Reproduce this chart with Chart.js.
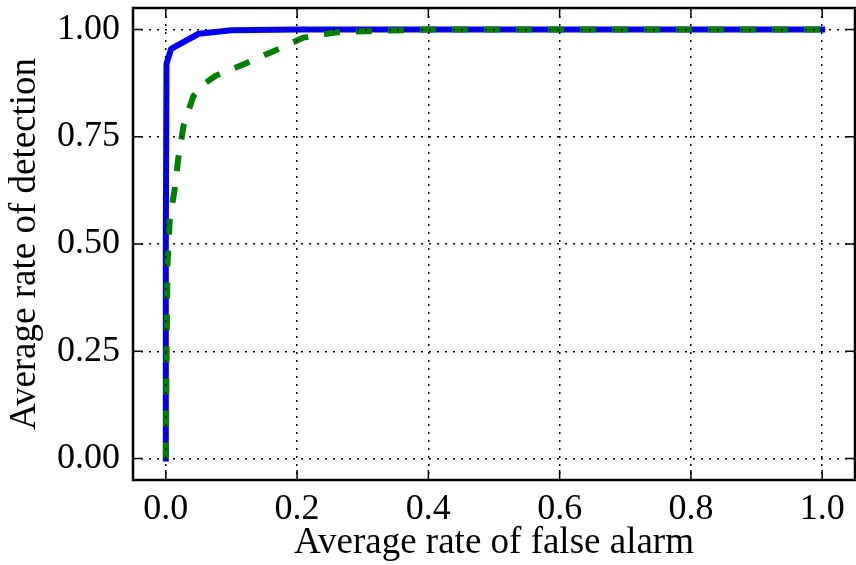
<!DOCTYPE html>
<html>
<head>
<meta charset="utf-8">
<script src="https://cdn.jsdelivr.net/npm/chart.js@4/dist/chart.umd.min.js"></script>
<style>
    html, body { margin: 0; padding: 0; background: #fff; }
    canvas { display: block; }
</style>
</head>
<body>
<canvas id="roc" width="856" height="565"></canvas>
<script>
// values
const blueX  = [0.0, 0.0, 0.001, 0.008, 0.05, 0.1, 0.2, 0.4, 0.6, 0.8, 1.0];
const blueY  = [0.0, 0.5, 0.92, 0.955, 0.99, 0.998, 1.0, 1.0, 1.0, 1.0, 1.0];
const greenX = [0.0, 0.001, 0.0025, 0.006, 0.0135, 0.019, 0.027, 0.042, 0.06, 0.076, 0.119, 0.165, 0.21, 0.258, 0.306, 0.4, 0.6, 0.8, 1.0];
const greenY = [0.0, 0.2, 0.45, 0.557, 0.627, 0.70, 0.775, 0.845, 0.875, 0.892, 0.919, 0.95, 0.981, 0.993, 0.996, 1.0, 1.0, 1.0, 1.0];
const xTicks = [0.0, 0.2, 0.4, 0.6, 0.8, 1.0];
const yTicks = [0.0, 0.25, 0.5, 0.75, 1.0];

const serif = '"Liberation Serif", "Times New Roman", serif';

function toPoints(xs, ys) {
    return xs.map((x, i) => ({ x: x, y: ys[i] }));
}

// frame on all four sides plus inward tick marks (matplotlib classic look)
const frameTicks = {
    id: 'frameTicks',
    afterDraw(chart) {
        const { ctx, chartArea: a, scales } = chart;
        ctx.save();
        ctx.strokeStyle = '#000';
        ctx.lineWidth = 1.5;
        ctx.beginPath();
        xTicks.forEach(v => {
            const px = scales.x.getPixelForValue(v);
            ctx.moveTo(px, a.bottom); ctx.lineTo(px, a.bottom - 10);
            ctx.moveTo(px, a.top);    ctx.lineTo(px, a.top + 10);
        });
        yTicks.forEach(v => {
            const py = scales.y.getPixelForValue(v);
            ctx.moveTo(a.left, py);  ctx.lineTo(a.left + 10, py);
            ctx.moveTo(a.right, py); ctx.lineTo(a.right - 10, py);
        });
        ctx.stroke();
        ctx.lineWidth = 2.5;
        ctx.strokeRect(a.left, a.top, a.right - a.left, a.bottom - a.top);
        ctx.restore();
    }
};

function noPad(scale) {
    scale.paddingTop = 0;
    scale.paddingBottom = 0;
    scale.paddingLeft = 0;
    scale.paddingRight = 0;
}

new Chart(document.getElementById('roc'), {
    type: 'scatter',
    data: {
        datasets: [
            {
                label: 'dashed',
                data: toPoints(greenX, greenY),
                showLine: true,
                borderColor: '#008000',
                borderWidth: 6,
                borderDash: [16, 16],
                borderCapStyle: 'butt',
                borderJoinStyle: 'round',
                pointRadius: 0,
                tension: 0,
                order: 0
            },
            {
                label: 'solid',
                data: toPoints(blueX, blueY),
                showLine: true,
                borderColor: '#0000ff',
                borderWidth: 6,
                borderCapStyle: 'square',
                borderJoinStyle: 'round',
                pointRadius: 0,
                tension: 0,
                order: 1
            }
        ]
    },
    options: {
        responsive: false,
        animation: false,
        devicePixelRatio: 1,
        layout: { padding: { top: 8, right: 1, left: 0, bottom: 0 } },
        plugins: {
            legend: { display: false },
            tooltip: { enabled: false }
        },
        scales: {
            x: {
                type: 'linear',
                min: -0.05,
                max: 1.05,
                afterBuildTicks: s => { s.ticks = xTicks.map(v => ({ value: v })); },
                afterFit: s => { s.height = 85; noPad(s); },
                grid: { color: '#000', lineWidth: 1.5, drawTicks: false, z: 1 },
                border: { display: false, dash: [2, 6] },
                ticks: {
                    color: '#000',
                    padding: 8,
                    maxRotation: 0,
                    font: { family: serif, size: 36 },
                    callback: v => Number(v).toFixed(1)
                },
                title: {
                    display: true,
                    text: 'Average rate of false alarm',
                    color: '#000',
                    padding: 0,
                    font: { family: serif, size: 37 }
                }
            },
            y: {
                type: 'linear',
                min: -0.05,
                max: 1.05,
                afterBuildTicks: s => { s.ticks = yTicks.map(v => ({ value: v })); },
                afterFit: s => { s.width = 133; noPad(s); },
                grid: { color: '#000', lineWidth: 1.5, drawTicks: false, z: 1 },
                border: { display: false, dash: [2, 6] },
                ticks: {
                    color: '#000',
                    padding: 13,
                    font: { family: serif, size: 36 },
                    callback: v => Number(v).toFixed(2)
                },
                title: {
                    display: true,
                    text: 'Average rate of detection',
                    color: '#000',
                    padding: { top: 3, bottom: 0 },
                    font: { family: serif, size: 37 }
                }
            }
        }
    },
    plugins: [frameTicks]
});
</script>
</body>
</html>
